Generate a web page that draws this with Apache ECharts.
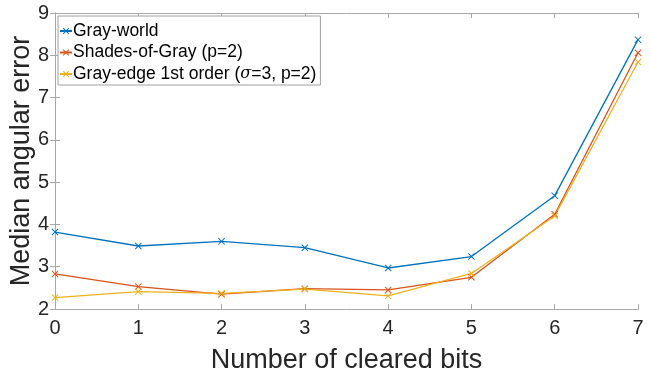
<!DOCTYPE html>
<html>
<head>
<meta charset="utf-8">
<script src="https://cdn.jsdelivr.net/npm/echarts@6/dist/echarts.min.js"></script>
<style>
  html, body { margin: 0; padding: 0; background: #fff; }
  #chart { width: 650px; height: 373px; }
</style>
</head>
<body>
<div id="chart"></div>
<script>
// Median angular error versus the number of cleared low-order bits
const clearedBits = [0, 1, 2, 3, 4, 5, 6, 7];
const grayWorld = [3.82, 3.49, 3.60, 3.45, 2.97, 3.24, 4.68, 8.37];
const shadesOfGray = [2.83, 2.53, 2.35, 2.48, 2.45, 2.75, 4.24, 8.06];
const grayEdge = [2.27, 2.41, 2.37, 2.47, 2.31, 2.84, 4.20, 7.84];
const seriesNames = ['Gray-world', 'Shades-of-Gray (p=2)', 'Gray-edge 1st order (σ=3, p=2)'];
const xTicks = [0, 1, 2, 3, 4, 5, 6, 7];
const yTicks = [2, 3, 4, 5, 6, 7, 8, 9];

const colors = ['#0072BD', '#D95319', '#EDB120'];
const font = 'Liberation Sans, Arial, Helvetica, sans-serif';
const axisGray = '#a8a8a8';
const textColor = '#262626';

// Thin "x" cross marker
const crossPath = 'path://M0,1L1,0L5,4L9,0L10,1L6,5L10,9L9,10L5,6L1,10L0,9L4,5Z';

function pairs(ys) {
  return clearedBits.map((x, i) => [x, ys[i]]);
}

const chart = echarts.init(document.getElementById('chart'), null, { renderer: 'canvas' });

const baseX = {
  type: 'value', min: xTicks[0], max: xTicks[xTicks.length - 1], interval: 1,
  axisLine: { show: true, lineStyle: { color: axisGray, width: 1 } },
  axisTick: { show: true, inside: true, length: 5, lineStyle: { color: axisGray } },
  splitLine: { show: false }
};
const baseY = {
  type: 'value', min: yTicks[0], max: yTicks[yTicks.length - 1], interval: 1,
  axisLine: { show: true, lineStyle: { color: axisGray, width: 1 } },
  axisTick: { show: true, inside: true, length: 5, lineStyle: { color: axisGray } },
  splitLine: { show: false }
};

function makeSeries(name, values, color) {
  return {
    name: name,
    type: 'line',
    data: pairs(values),
    symbol: crossPath,
    symbolSize: 7,
    showSymbol: true,
    lineStyle: { color: color, width: 1.3 },
    itemStyle: { color: color },
    emphasis: { disabled: true },
    animation: false
  };
}

chart.setOption({
  animation: false,
  color: colors,
  grid: { left: 55, right: 12, top: 13, bottom: 64, containLabel: false, outerBoundsMode: 'none' },
  legend: {
    show: true,
    left: 58, top: 16,
    orient: 'vertical',
    itemGap: 3.5,
    itemWidth: 12,
    itemHeight: 8,
    padding: [6, 4, 2, 1],
    borderColor: '#a0a0a0',
    borderWidth: 1,
    backgroundColor: '#fff',
    data: seriesNames,
    textStyle: {
      fontFamily: font, fontSize: 17.5, lineHeight: 18, color: '#000', padding: [0, 0, 0, -4],
      rich: { it: { fontFamily: 'DejaVu Serif, serif', fontStyle: 'italic', fontSize: 16, lineHeight: 18, color: '#000' } }
    },
    formatter: function (n) {
      return n.replace('σ', '{it|σ}');
    }
  },
  xAxis: [
    Object.assign({}, baseX, {
      position: 'bottom',
      name: 'Number of cleared bits',
      nameLocation: 'middle',
      nameGap: 38,
      nameMoveOverlap: false,
      nameTextStyle: { fontFamily: font, fontSize: 27, color: textColor },
      axisLabel: { show: true, fontFamily: font, fontSize: 20, color: textColor, margin: 9 }
    }),
    Object.assign({}, baseX, { position: 'top', axisLabel: { show: false } })
  ],
  yAxis: [
    Object.assign({}, baseY, {
      position: 'left',
      name: 'Median angular error',
      nameLocation: 'middle',
      nameGap: 20,
      nameMoveOverlap: false,
      nameRotate: 90,
      nameTextStyle: { fontFamily: font, fontSize: 27, color: textColor },
      axisLabel: { show: true, fontFamily: font, fontSize: 20, color: textColor, margin: 6, padding: [5, 0, 0, 0] }
    }),
    Object.assign({}, baseY, { position: 'right', axisLabel: { show: false } })
  ],
  series: [
    makeSeries(seriesNames[0], grayWorld, colors[0]),
    makeSeries(seriesNames[1], shadesOfGray, colors[1]),
    makeSeries(seriesNames[2], grayEdge, colors[2])
  ]
});
</script>
</body>
</html>
